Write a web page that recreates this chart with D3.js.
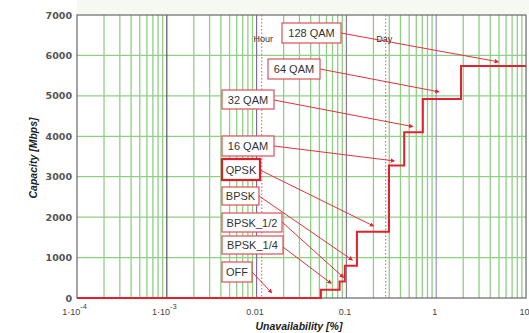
<!DOCTYPE html>
<html><head><meta charset="utf-8">
<script src="https://cdn.jsdelivr.net/npm/d3@7"></script>
<style>
html,body{margin:0;padding:0;background:#fff;}
svg{display:block;}
</style></head>
<body>
<div id="chart"></div>
<script>
// ---- data ----
const modes = ["OFF","BPSK_1/4","BPSK_1/2","BPSK","QPSK","16 QAM","32 QAM","64 QAM","128 QAM"];
const capacities = [0, 205, 410, 800, 1640, 3280, 4100, 4920, 5740];           // Mbps
const switchPoints = [1e-4, 0.052, 0.084, 0.096, 0.131, 0.298, 0.44, 0.71, 1.89]; // unavailability % at which each mode starts
const curveEnd = 10;
// annotation arrow targets (unavailability %, capacity Mbps)
const arrowTargetU = [0.0147, 0.0675, 0.0925, 0.116, 0.1995, 0.341, 0.547, 1.07, 4.9];
const arrowTargetC = [131, 364, 512, 940, 1782, 3391, 4240, 5100, 5842];
const yTicks = [0,1000,2000,3000,4000,5000,6000,7000];
const xTicks = [1e-4, 1e-3, 0.01, 0.1, 1, 10];
const xTickLabels = [["1·10","-4"],["1·10","-3"],["0.01",""],["0.1",""],["1",""],["10",""]];
const refLines = [{name:"Hour", u:100/8760},{name:"Day", u:2400/8760}];

// ---- layout ----
const W = 529, H = 333;
const svg = d3.select("#chart").append("svg").attr("width", W).attr("height", H);
const x = d3.scaleLog().domain([1e-4, 10]).range([77, 526]);
const y = d3.scaleLinear().domain([0, 7000]).range([298, 15]);

// faint band above plot
svg.append("rect").attr("x", 77).attr("y", 0).attr("width", W-77).attr("height", 14).attr("fill", "#f5f9f1");

// minor vertical grid
const minor = [];
for (let e = -4; e <= 0; e++) for (let k = 2; k <= 9; k++) minor.push(k * Math.pow(10, e));
svg.append("g").selectAll("line").data(minor).join("line")
  .attr("x1", d => x(d)).attr("x2", d => x(d)).attr("y1", y(7000)).attr("y2", y(0))
  .attr("stroke", "#8fcf84").attr("stroke-width", 1.3);

// horizontal grid
svg.append("g").selectAll("line").data(yTicks.filter(d => d > 0 && d < 7000)).join("line")
  .attr("x1", x(1e-4)).attr("x2", x(10)).attr("y1", d => y(d)).attr("y2", d => y(d))
  .attr("stroke", "#8fcf84").attr("stroke-width", 1.3);

// decade lines
const decadeColor = {"0.001":"#555", "0.01":"#7f6f92", "0.1":"#8a7a9e", "1":"#a28cce"};
svg.append("g").selectAll("line").data([1e-3, 0.01, 0.1, 1]).join("line")
  .attr("x1", d => x(d)).attr("x2", d => x(d)).attr("y1", y(7000)).attr("y2", y(0))
  .attr("stroke", d => decadeColor[String(d)]).attr("stroke-width", 1.2);

// frame
svg.append("rect").attr("x", x(1e-4)).attr("y", y(7000)).attr("width", x(10)-x(1e-4)).attr("height", y(0)-y(7000))
  .attr("fill", "none").attr("stroke", "#666").attr("stroke-width", 1.2);

// reference lines (hour, day)
svg.append("g").selectAll("line").data(refLines).join("line")
  .attr("x1", d => x(d.u)).attr("x2", d => x(d.u)).attr("y1", y(7000)).attr("y2", y(0))
  .attr("stroke", "#e0506a").attr("stroke-width", 1).attr("stroke-dasharray", "1.5,2");
svg.append("g").selectAll("text").data(refLines).join("text")
  .attr("x", d => x(d.u) + (d.name === "Hour" ? 1.5 : -1.5)).attr("y", 42)
  .attr("text-anchor", "middle").attr("font-family", "Liberation Sans, Arial, sans-serif")
  .attr("font-size", 9).attr("fill", "#333").text(d => d.name);

// y axis
const yAxis = svg.append("g").attr("transform", `translate(${x(1e-4) - 4},0)`)
  .call(d3.axisLeft(y).tickValues(yTicks).tickSize(0).tickPadding(1).tickFormat(d3.format("d")));
yAxis.select(".domain").remove();
yAxis.selectAll("text").attr("font-family", "DejaVu Sans, sans-serif").attr("font-size", 9.5)
  .attr("font-weight", "bold").attr("fill", "#555");

// x axis labels
const xAxis = svg.append("g").attr("transform", `translate(0,${y(0)})`)
  .call(d3.axisBottom(x).tickValues(xTicks).tickSize(0).tickFormat(() => ""));
xAxis.select(".domain").remove();
xAxis.selectAll(".tick text").each(function(d, i) {
  const t = d3.select(this).attr("font-family", "Liberation Sans, Arial, sans-serif")
    .attr("font-size", 9).attr("fill", "#444").attr("dy", "1.55em").attr("x", xTickLabels[i][1] ? -3 : -2)
    .attr("text-anchor", "middle");
  t.append("tspan").text(xTickLabels[i][0]);
  if (xTickLabels[i][1]) t.append("tspan").attr("dy", "-0.75em").attr("font-size", 7.5).text(xTickLabels[i][1]);
});

// axis titles
svg.append("text").attr("x", 299).attr("y", 330).attr("text-anchor", "middle")
  .attr("font-family", "Liberation Sans, Arial, sans-serif").attr("font-size", 10.5)
  .attr("font-weight", "bold").attr("font-style", "italic").attr("fill", "#222").text("Unavailability [%]");
svg.append("text").attr("transform", "translate(37,158) rotate(-90)").attr("text-anchor", "middle")
  .attr("font-family", "Liberation Sans, Arial, sans-serif").attr("font-size", 10.5)
  .attr("font-weight", "bold").attr("font-style", "italic").attr("fill", "#222").text("Capacity [Mbps]");

// step curve
const pts = switchPoints.map((u, i) => [u, capacities[i]]);
pts.push([curveEnd, capacities[capacities.length - 1]]);
const line = d3.line().x(d => x(d[0])).y(d => y(d[1])).curve(d3.curveStepAfter);
svg.append("path").datum(pts).attr("d", line).attr("fill", "none")
  .attr("stroke", "#e3202e").attr("stroke-width", 2);

// annotations
const defs = svg.append("defs");
defs.append("marker").attr("id", "ah").attr("viewBox", "0 0 10 10").attr("refX", 8).attr("refY", 5)
  .attr("markerWidth", 4.5).attr("markerHeight", 4.5).attr("orient", "auto")
  .append("path").attr("d", "M0,0L10,5L0,10z").attr("fill", "#e3202e");

// label box layout (pixels): [left, top, width, height, start x offset, start y]
const boxLayout = {
  "OFF":      [222, 262, 30, 20, 30, 272],
  "BPSK_1/4": [222, 236, 61, 18, 61, 247],
  "BPSK_1/2": [222, 213, 60, 19, 60, 222],
  "BPSK":     [222, 187, 37, 18, 37, 196],
  "QPSK":     [222, 159, 38, 21, 38, 170],
  "16 QAM":   [222, 136, 52, 20, 52, 146],
  "32 QAM":   [222, 90, 52, 19, 52, 100],
  "64 QAM":   [268, 59, 52, 20, 52, 69],
  "128 QAM":  [282, 23, 59, 20, 59, 33]
};
const ann = modes.map((m, i) => ({name: m, u: arrowTargetU[i], c: arrowTargetC[i], b: boxLayout[m]}));
const ag = svg.append("g");
ag.selectAll("line").data(ann).join("line")
  .attr("x1", d => d.b[0] + d.b[4]).attr("y1", d => d.b[5])
  .attr("x2", d => x(d.u)).attr("y2", d => y(d.c))
  .attr("stroke", "#e3303e").attr("stroke-width", 1).attr("marker-end", "url(#ah)");
const bg = ag.selectAll("g.box").data(ann).join("g").attr("class", "box");
bg.append("rect").attr("x", d => d.b[0]).attr("y", d => d.b[1]).attr("width", d => d.b[2]).attr("height", d => d.b[3])
  .attr("fill", "#fff").attr("stroke", d => d.name === "QPSK" ? "#d8202c" : "#d9505a")
  .attr("stroke-width", d => d.name === "QPSK" ? 2.2 : 1.2);
bg.append("text").attr("x", d => d.b[0] + d.b[2] / 2).attr("y", d => d.b[1] + d.b[3] / 2 + 4)
  .attr("text-anchor", "middle").attr("font-family", "Liberation Sans, Arial, sans-serif")
  .attr("font-size", 11).attr("fill", "#333").text(d => d.name);
</script>
</body></html>
